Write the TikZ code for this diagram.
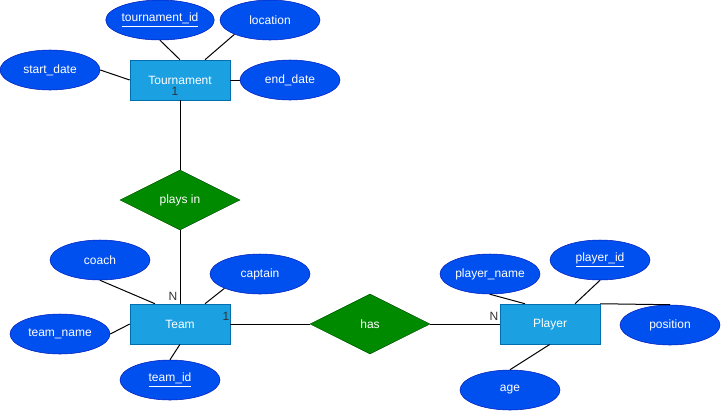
\documentclass[tikz,border=0pt]{standalone}
\usepackage{fontspec}
\setmainfont{Liberation Sans}
\usetikzlibrary{shapes.geometric,calc}

\definecolor{entfill}{HTML}{1BA1E2}
\definecolor{entdraw}{HTML}{006EAF}
\definecolor{attfill}{HTML}{0050EF}
\definecolor{attdraw}{HTML}{001DBC}
\definecolor{relfill}{HTML}{008A00}
\definecolor{reldraw}{HTML}{005700}
\definecolor{cardtext}{HTML}{333333}

\tikzset{
  entity/.style={draw=entdraw, fill=entfill, text=white, rectangle,
    minimum width=75pt, minimum height=30pt, inner sep=0pt},
  attr/.style={draw=attdraw, fill=attfill, text=white, ellipse,
    minimum width=75pt, minimum height=30pt, inner sep=0pt},
  rel/.style={draw=reldraw, fill=relfill, text=white, diamond,
    minimum width=90pt, minimum height=45pt, inner sep=0pt},
  card/.style={text=cardtext, inner sep=0pt},
  link/.style={draw=black, line width=0.75pt}
}

\begin{document}
\begin{tikzpicture}[x=0.75pt, y=-0.75pt, font=\fontsize{9}{11}\selectfont]
\useasboundingbox (0,0) rectangle (721,412);

% Tournament and its attributes
\node[entity] (tour) at (180,80) {Tournament};
\node[attr] (tourid) at (160,20) {\underline{tournament\_id}};
\node[attr] (loc) at (270,20) {location};
\node[attr] (start) at (50,70) {start\_date};
\node[attr] (enddate) at (290,80) {end\_date};

% relationships
\node[rel] (plays) at (180,200) {plays in};
\node[rel] (has) at (370,324) {has};

% Team and its attributes
\node[entity] (team) at (180,324) {Team};
\node[attr] (coach) at (100,260) {coach};
\node[attr] (capt) at (260,274) {captain};
\node[attr] (tname) at (60,334) {team\_name};
\node[attr] (teamid) at (170,380) {\underline{team\_id}};

% Player and its attributes
\node[entity] (player) at (550,324) {Player};
\node[attr] (pname) at (490,274) {player\_name};
\node[attr] (pid) at (600,260) {\underline{player\_id}};
\node[attr] (pos) at (670,325) {position};
\node[attr] (age) at (510,390) {age};

% cardinalities
\node[card] (c1) at (175,91) {1};
\node[card] (c2) at (173,296) {N};
\node[card] (c3) at (226,316) {1};
\node[card] (c4) at (494,316) {N};

% links
\draw[link] (tourid.south) -- (tour.north);
\draw[link] (loc.south west) -- ($(tour.north)+(25,0)$);
\draw[link] (start.east) -- (tour.west);
\draw[link] (tour.east) -- (enddate.west);
\draw[link] (tour.south) -- (plays.north);
\draw[link] (plays.south) -- (team.north);
\draw[link] (coach.south) -- ($(team.north)+(-25,0)$);
\draw[link] (capt.south west) -- ($(team.north)+(25,0)$);
\draw[link] (tname.east) -- (team.west);
\draw[link] (teamid.north) -- (team.south);
\draw[link] (team.east) -- (has.west);
\draw[link] (has.east) -- (player.west);
\draw[link] (pname.south) -- ($(player.north)+(-25,0)$);
\draw[link] (pid.south) -- ($(player.north)+(25,0)$);
\draw[link] (player.north east) -- (pos.north);
\draw[link] (age.north) -- (player.south);

\end{tikzpicture}
\end{document}
